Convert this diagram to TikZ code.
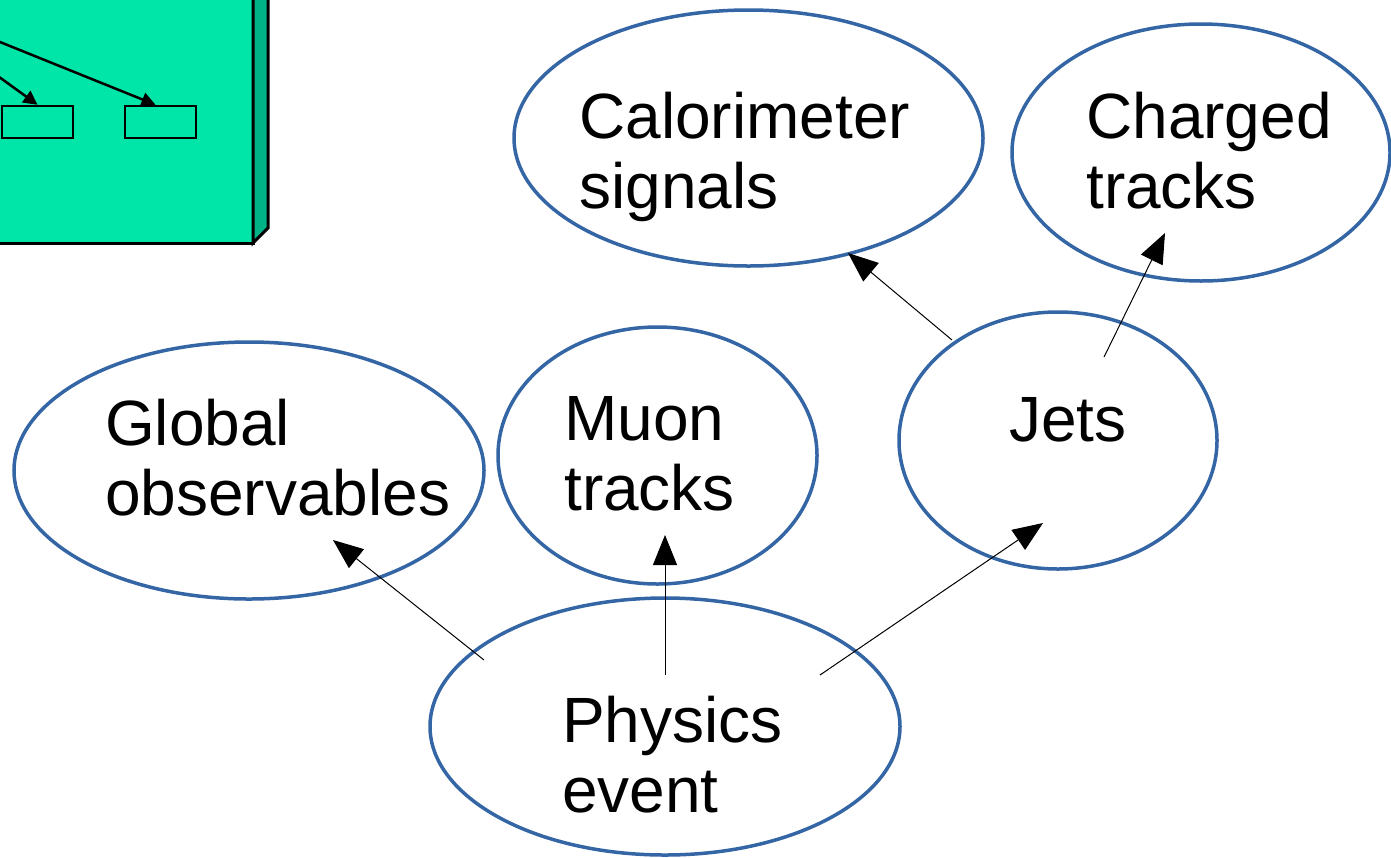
\documentclass[tikz,border=0pt]{standalone}
\usepackage{fontspec}
\setmainfont{Liberation Sans}
\usetikzlibrary{shapes.geometric,arrows.meta}
\definecolor{ellblue}{HTML}{3465A4}
\definecolor{boxfront}{HTML}{00E5A8}
\definecolor{boxside}{HTML}{00B386}
\begin{document}
\begin{tikzpicture}[x=1pt,y=-1pt,
  ell/.style={ellipse, draw=ellblue, line width=3.5pt, inner sep=0pt},
  lbl/.style={anchor=base west, inner sep=0pt, font=\fontsize{64}{70}\selectfont},
  link/.style={draw=black, line width=1pt, -{Triangle[length=30pt,width=24pt]}},
  smallbox/.style={draw=black, line width=2.5pt, fill=boxfront, minimum width=71pt, minimum height=32pt, inner sep=0pt},
  boxlink/.style={draw=black, line width=2.5pt, -{Triangle[length=14pt,width=14pt]}}]
\useasboundingbox (0,0) rectangle (1391,857);
\begin{scope}
\clip (0,0) rectangle (1391,857);
% green block with its side face
\draw[line width=3pt, fill=boxfront] (-10,-10) rectangle (253,243);
\draw[line width=3pt, fill=boxside] (253,-10) -- (268,-10) -- (268,228) -- (253,243) -- cycle;
\node[smallbox] (b1) at (37.5,122) {};
\node[smallbox] (b2) at (160.5,122) {};
\coordinate (s1) at (-5,40);
\coordinate (s2) at (-5,74);
\draw[boxlink] (s2) -- (b1.north);
\draw[boxlink] (s1) -- ([xshift=-5pt]b2.north);
\end{scope}
% ellipses
\node[ell, minimum width=469pt, minimum height=256pt] (cal) at (748.5,138) {};
\node[ell, minimum width=378pt, minimum height=257pt] (chg) at (1201,152.5) {};
\node[ell, minimum width=470pt, minimum height=257pt] (glob) at (249,470.5) {};
\node[ell, minimum width=319pt, minimum height=257pt] (muon) at (657.5,455.5) {};
\node[ell, minimum width=318pt, minimum height=257pt] (jets) at (1058,440.5) {};
\node[ell, minimum width=470pt, minimum height=257pt] (phys) at (665,726.5) {};
% labels
\node[lbl] (calA) at (579,138) {Calorimeter};
\node[lbl] (calB) at (579,208) {signals};
\node[lbl] (chgA) at (1086,138) {Charged};
\node[lbl] (chgB) at (1086,208) {tracks};
\node[lbl] (globA) at (105,445) {Global};
\node[lbl] (globB) at (105,515) {observables};
\node[lbl] (muonA) at (564,440) {Muon};
\node[lbl] (muonB) at (564,510) {tracks};
\node[lbl] (jetsA) at (1009,441) {Jets};
\node[lbl] (physA) at (562,742) {Physics};
\node[lbl] (physB) at (562,812) {event};
% connectors
\coordinate (pg) at (484,660);
\coordinate (tg) at (333,540);
\coordinate (pm) at (665,675);
\coordinate (tm) at (665,535);
\coordinate (pj) at (820,675);
\coordinate (tj) at (1043,523);
\coordinate (jc) at (952,340);
\coordinate (tc) at (848,253);
\coordinate (jt) at (1104,357);
\coordinate (tt) at (1165,233);
\draw[link] (pg) -- (tg);
\draw[link] (pm) -- (tm);
\draw[link] (pj) -- (tj);
\draw[link] (jc) -- (tc);
\draw[link] (jt) -- (tt);
\end{tikzpicture}
\end{document}
